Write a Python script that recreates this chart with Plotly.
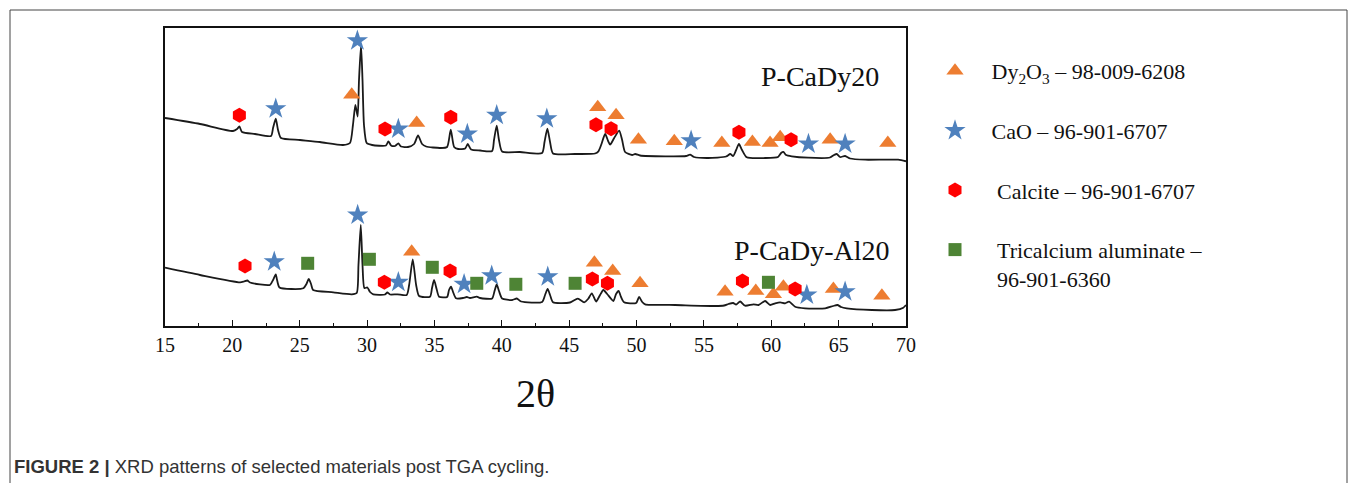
import plotly.graph_objects as go

# ---------------- data ----------------
# 2-theta positions and relative intensity (arbitrary units) of the two traced patterns
cady20_2theta = [15.0, 17.6, 20.05, 20.35, 20.52, 20.72, 21.68, 22.87, 23.02, 23.22, 23.39, 23.61,
                 25.02, 26.5, 28.21, 28.73, 28.95, 29.13, 29.3, 29.4, 29.55, 29.66, 29.77, 29.97,
                 30.37, 31.4, 31.58, 31.78, 32.07, 32.32, 32.52, 33.04, 33.49, 33.78, 34.08, 34.38,
                 35.42, 35.94, 36.21, 36.46, 36.76, 37.28, 37.47, 37.72, 38.39, 39.28, 39.42, 39.62,
                 39.79, 40.02, 41.35, 42.99, 43.17, 43.38, 43.58, 43.8, 45.44, 46.92, 47.17, 47.37,
                 47.67, 47.89, 48.04, 48.34, 48.71, 48.93, 49.15, 49.67, 49.9, 50.26, 52.12, 53.68,
                 53.97, 54.27, 55.31, 56.65, 56.95, 57.17, 57.39, 57.6, 57.83, 58.18, 59.54, 60.5,
                 60.73, 60.9, 61.1, 61.52, 62.73, 64.36, 64.66, 64.86, 65.1, 65.48, 65.85, 66.97,
                 69.42, 70.0]
cady20_intensity = [208, 202, 195, 197, 199.5, 194, 192, 190, 198, 207.3, 196, 188,
                    186, 184, 181, 183, 201, 221, 209.5, 246, 281, 246, 201, 183,
                    181, 180.5, 184.7, 180.5, 180, 182.5, 179.5, 179, 182, 190.7, 182, 179.5,
                    178, 179, 196.3, 179, 177, 177.5, 182, 176.5, 175.5, 175, 186, 200.3,
                    186, 174.5, 174, 173, 184, 197.3, 184, 172.5, 172, 172.5, 174.7, 181,
                    192, 185, 181.3, 188, 195.3, 186, 174, 171, 172, 170.5, 169.7, 170,
                    171.3, 169, 168, 169.5, 172, 170, 176, 182, 176, 168.7, 168, 169,
                    173, 174, 171, 169.7, 168.3, 168.5, 171, 172, 169, 170, 167.5, 166.3,
                    166.3, 164.7]

cadyal20_2theta = [15.0, 17.6, 20.57, 20.86, 21.11, 21.31, 22.79, 23.02, 23.22, 23.32, 23.5, 25.27,
                   25.5, 25.67, 25.84, 25.99, 27.49, 28.86, 29.23, 29.36, 29.53, 29.66, 29.8, 30.02,
                   30.22, 30.46, 31.33, 31.5, 31.7, 32.25, 32.94, 33.12, 33.39, 33.64, 33.86, 34.67,
                   34.82, 34.97, 35.16, 35.34, 35.94, 36.08, 36.23, 36.38, 36.6, 37.12, 37.4, 37.64,
                   38.14, 38.39, 39.28, 39.46, 39.62, 39.79, 40.02, 40.77, 41.11, 41.43, 42.99, 43.21,
                   43.4, 43.58, 43.8, 45.06, 45.64, 46.11, 46.4, 46.68, 47.0, 47.29, 47.54, 47.82,
                   48.28, 48.48, 48.67, 48.85, 49.08, 49.97, 50.19, 50.42, 50.64, 52.86, 55.83, 56.5,
                   56.82, 57.17, 57.39, 57.69, 58.06, 58.68, 59.05, 59.54, 59.92, 60.29, 60.66, 61.03,
                   61.32, 61.77, 62.51, 64.0, 64.59, 64.91, 65.18, 65.6, 67.46, 69.19, 69.8, 70.0]
cadyal20_intensity = [58.3, 51, 43.7, 44.5, 45.5, 43.5, 41, 46, 51.7, 46, 38.5, 37.7,
                      42, 47, 42, 36, 33.7, 31.7, 33, 61, 101, 61, 38, 38.5,
                      34, 31.7, 31.5, 33.5, 31.5, 31.7, 31, 41, 66.7, 41, 30, 29.3,
                      38, 46, 37, 29.3, 29, 36, 39.3, 34, 27.7, 28, 29, 28,
                      29.3, 28, 27.5, 35, 41.5, 35, 27.5, 26, 27.5, 24.5, 24, 31,
                      37, 31, 23.7, 23.5, 27.3, 23.7, 27, 32.7, 24.5, 31, 36, 32,
                      25, 32, 35, 29, 23.7, 23, 29, 24, 21.7, 21, 20, 20.5,
                      22, 23, 21.5, 24.5, 20.3, 21.7, 21, 25, 21, 22.7, 23.7, 22.7,
                      24.3, 19.3, 17.7, 17.7, 20, 21, 19, 17.7, 16, 16, 18.3, 21]

# phase identification markers: (2-theta, height) for each pattern
dy2o3_top_x = [28.86, 33.68, 47.12, 48.48, 50.14, 52.8, 56.33, 58.6, 59.91, 60.66, 64.37, 68.65]
dy2o3_top_y = [231.3, 203, 218.7, 210.7, 186.3, 184.7, 183, 184, 183, 188.7, 186.3, 183]
dy2o3_bot_x = [33.31, 46.87, 48.23, 50.26, 56.57, 58.85, 60.16, 60.9, 64.61, 68.21]
dy2o3_bot_y = [74.3, 63.3, 55, 42.7, 34.3, 35, 31.7, 39.3, 37, 30.3]

cao_top_x = [23.22, 29.28, 32.32, 37.44, 39.62, 43.34, 54.05, 62.76, 65.48]
cao_top_y = [217.3, 285.3, 197, 192, 210.7, 207.3, 185.3, 182, 182]
cao_bot_x = [23.11, 29.3, 32.32, 37.2, 39.25, 43.41, 62.64, 65.48]
cao_bot_y = [64.3, 111, 43.7, 41.7, 50.3, 49.3, 31, 34.3]

calcite_top_x = [20.52, 31.33, 36.21, 46.99, 48.11, 57.6, 61.47]
calcite_top_y = [210.7, 197, 208.7, 201.3, 197.3, 193.7, 186.3]
calcite_bot_x = [20.94, 31.28, 36.16, 46.72, 47.84, 57.86, 61.77]
calcite_bot_y = [60, 43.7, 55, 47, 42.7, 45, 37]

c3a_bot_x = [25.59, 30.17, 34.84, 38.14, 41.04, 45.44, 59.79]
c3a_bot_y = [62.7, 66.7, 58.7, 42.7, 41.7, 42.7, 43.7]

x_ticks = [15, 20, 25, 30, 35, 40, 45, 50, 55, 60, 65, 70]

NB = "\u00a0"
legend_names = [
    NB * 3 + "Dy<sub>2</sub>O<sub>3</sub> – 98-009-6208",
    NB * 3 + "CaO – 96-901-6707",
    NB * 4 + "Calcite – 96-901-6707",
    NB * 4 + "Tricalcium aluminate –<br>" + NB * 4 + "96-901-6360",
]

# ---------------- figure ----------------
SERIF = "Liberation Serif, Times New Roman, serif"
W, H = 1357, 483
L, R, T, B = 165, 906, 28, 326

fig = go.Figure()

for xs, ys in [(cady20_2theta, cady20_intensity), (cadyal20_2theta, cadyal20_intensity)]:
    fig.add_trace(go.Scatter(x=xs, y=ys, mode="lines", showlegend=False, hoverinfo="skip",
                             line=dict(color="#1a1a1a", width=1.8, shape="spline", smoothing=0.6)))

phases = [
    (dy2o3_top_x + dy2o3_bot_x, dy2o3_top_y + dy2o3_bot_y, "triangle-up", "#ED7D31", 15),
    (cao_top_x + cao_bot_x, cao_top_y + cao_bot_y, "star", "#4F81BD", 16),
    (calcite_top_x + calcite_bot_x, calcite_top_y + calcite_bot_y, "hexagon", "#FF0000", 15),
    (c3a_bot_x, c3a_bot_y, "square", "#4E8435", 13),
]
for i, (xs, ys, sym, col, sz) in enumerate(phases):
    fig.add_trace(go.Scatter(x=xs, y=ys, mode="markers", name=legend_names[i],
                             legendgroup=f"g{i}",
                             marker=dict(symbol=sym, color=col, size=sz, line=dict(width=0))))

fig.add_annotation(x=63.6, y=249.7, xref="x", yref="y", text="P-CaDy20", showarrow=False,
                   font=dict(family=SERIF, size=28, color="#111"))
fig.add_annotation(x=63.0, y=76, xref="x", yref="y", text="P-CaDy-Al20", showarrow=False,
                   font=dict(family=SERIF, size=28, color="#111"))

pw, ph = R - L, B - T
def px(x):
    return (x - L) / pw
def py(y):
    return (B - y) / ph

# caption
fig.add_annotation(x=px(12), y=py(466), xref="paper", yref="paper", xanchor="left", yanchor="middle",
                   text="<b>FIGURE 2 |</b> XRD patterns of selected materials post TGA cycling.",
                   showarrow=False, font=dict(family="Liberation Sans, Arial, sans-serif", size=18.5, color="#333"))

# outer frame of the figure panel
fig.add_shape(type="rect", xref="paper", yref="paper", x0=px(10), x1=px(1347), y0=py(500), y1=py(10),
              line=dict(color="#444", width=1), layer="below")

fig.update_layout(
    width=W, height=H,
    margin=dict(l=L, r=W - R, t=T, b=H - B, pad=0),
    paper_bgcolor="white", plot_bgcolor="white",
    font=dict(family=SERIF, color="#111"),
    showlegend=True,
    legend=dict(x=px(935), y=py(50), xanchor="left", yanchor="top",
                font=dict(family=SERIF, size=22, color="#111"),
                tracegroupgap=28, traceorder="grouped", valign="top",
                bgcolor="rgba(0,0,0,0)", itemsizing="trace"),
    xaxis=dict(range=[15, 70], tickvals=x_ticks, ticks="inside", ticklen=6, tickwidth=1.2,
               tickcolor="#111", showline=True, linecolor="#111", linewidth=1.5, mirror=True,
               showgrid=False, zeroline=False,
               tickfont=dict(family=SERIF, size=20, color="#111"),
               minor=dict(ticks="inside", ticklen=3, dtick=2.5, tick0=15, tickcolor="#111", showgrid=False),
               title=dict(text="2θ", font=dict(family=SERIF, size=40, color="#111"), standoff=24)),
    yaxis=dict(range=[0, B - T], showticklabels=False, ticks="", showline=True, linecolor="#111",
               linewidth=1.5, mirror=True, showgrid=False, zeroline=False),
)

fig.write_html("out.html")
